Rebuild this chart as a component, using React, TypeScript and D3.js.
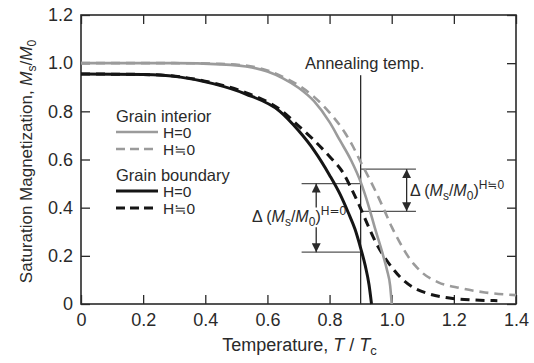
import React, { useRef, useEffect } from 'react';
import * as d3 from 'd3';

// tick values
const xTicks = [0, 0.2, 0.4, 0.6, 0.8, 1.0, 1.2, 1.4];
const yTicks = [0, 0.2, 0.4, 0.6, 0.8, 1.0, 1.2];

// [T/Tc, Ms/M0]
const interiorH0: [number, number][] = [
  [0, 1.0], [0.3, 1.0], [0.45, 0.995], [0.55, 0.982], [0.6, 0.965], [0.65, 0.937],
  [0.7, 0.898], [0.75, 0.842], [0.8, 0.755], [0.834, 0.678], [0.87, 0.595], [0.9, 0.507],
  [0.925, 0.41], [0.946, 0.315], [0.97, 0.212], [0.985, 0.14], [0.995, 0.075], [1.0, 0],
];
const interiorHn: [number, number][] = [
  [0, 1.0], [0.3, 1.0], [0.45, 0.997], [0.55, 0.986], [0.6, 0.97], [0.65, 0.943],
  [0.7, 0.908], [0.75, 0.86], [0.8, 0.795], [0.85, 0.71], [0.875, 0.655], [0.9, 0.59],
  [0.925, 0.528], [0.95, 0.463], [0.975, 0.393], [1.0, 0.32], [1.025, 0.258],
  [1.05, 0.203], [1.075, 0.16], [1.1, 0.128], [1.15, 0.09], [1.22, 0.066],
  [1.3, 0.048], [1.4, 0.037],
];
const boundaryH0: [number, number][] = [
  [0, 0.955], [0.2, 0.953], [0.32, 0.942], [0.425, 0.915], [0.53, 0.872], [0.64, 0.8],
  [0.7, 0.72], [0.75, 0.638], [0.8, 0.535], [0.834, 0.455], [0.86, 0.38], [0.882, 0.31],
  [0.9, 0.232], [0.915, 0.158], [0.927, 0.08], [0.935, 0],
];
const boundaryHn: [number, number][] = [
  [0, 0.955], [0.2, 0.953], [0.32, 0.943], [0.425, 0.918], [0.53, 0.878], [0.64, 0.808],
  [0.7, 0.74], [0.75, 0.68], [0.8, 0.612], [0.843, 0.546], [0.866, 0.49], [0.9, 0.397],
  [0.925, 0.322], [0.95, 0.253], [0.975, 0.198], [1.0, 0.153], [1.03, 0.108],
  [1.07, 0.068], [1.113, 0.045], [1.18, 0.026], [1.26, 0.017], [1.34, 0.014],
];

// annotations (data units)
const annealingTemp = 0.9;
const annealingTop = 0.95;
const deltaH0 = [0.5, 0.215];
const deltaHn = [0.56, 0.385];
const deltaH0Span = [0.71, 0.9];
const deltaHnSpan = [0.9, 1.078];
const deltaH0ArrowT = 0.757;
const deltaHnArrowT = 1.048;

const GRAY = '#9b9b9b';
const BLACK = '#151515';
const INK = '#2a2a2a';
const FONT = 'Liberation Sans, Arial, sans-serif';
const APPROX = '≒';

const App: React.FC = () => {
  const svgRef = useRef<SVGSVGElement | null>(null);
  const width = 534;
  const height = 363;
  const marginTop = 15;
  const marginRight = 18;
  const marginBottom = 59;
  const marginLeft = 81;

  useEffect(() => {
    const svg = d3.select(svgRef.current);
    svg.selectAll('*').remove();

    const x = d3.scaleLinear().domain([0, 1.4]).range([marginLeft, width - marginRight]);
    const y = d3.scaleLinear().domain([0, 1.2]).range([height - marginBottom, marginTop]);

    const defs = svg.append('defs');
    defs.append('marker')
      .attr('id', 'arrow')
      .attr('viewBox', '0 0 10 10')
      .attr('refX', 10).attr('refY', 5)
      .attr('markerUnits', 'userSpaceOnUse')
      .attr('markerWidth', 9).attr('markerHeight', 9)
      .attr('orient', 'auto-start-reverse')
      .append('path')
      .attr('d', 'M0,0 L10,5 L0,10 Z')
      .attr('fill', INK);

    // axes
    const fmt = (d: d3.NumberValue) => (+d === 0 ? '0' : d3.format('.1f')(+d));
    const styleAxis = (g: d3.Selection<SVGGElement, unknown, null, undefined>) => {
      g.select('.domain').remove();
      g.selectAll('line').attr('stroke', INK).attr('stroke-width', 1.3);
      g.selectAll('text').attr('fill', INK).attr('font-size', 18).attr('font-family', FONT);
    };
    svg.append('g')
      .attr('transform', `translate(0,${height - marginBottom})`)
      .call(d3.axisBottom(x).tickValues(xTicks).tickFormat(fmt).tickSizeInner(-9).tickSizeOuter(0).tickPadding(9))
      .call(styleAxis);
    svg.append('g')
      .attr('transform', `translate(0,${marginTop})`)
      .call(d3.axisTop(x).tickValues(xTicks).tickFormat(() => '').tickSizeInner(-9).tickSizeOuter(0))
      .call(styleAxis);
    svg.append('g')
      .attr('transform', `translate(${marginLeft},0)`)
      .call(d3.axisLeft(y).tickValues(yTicks).tickFormat(fmt).tickSizeInner(-9).tickSizeOuter(0).tickPadding(8))
      .call(styleAxis);
    svg.append('g')
      .attr('transform', `translate(${width - marginRight},0)`)
      .call(d3.axisRight(y).tickValues(yTicks).tickFormat(() => '').tickSizeInner(-9).tickSizeOuter(0))
      .call(styleAxis);

    svg.append('rect')
      .attr('x', marginLeft).attr('y', marginTop)
      .attr('width', width - marginLeft - marginRight)
      .attr('height', height - marginTop - marginBottom)
      .attr('fill', 'none').attr('stroke', INK).attr('stroke-width', 1.6);

    // annealing line + brackets
    const plot = svg.append('g');
    plot.append('line')
      .attr('x1', x(annealingTemp)).attr('x2', x(annealingTemp))
      .attr('y1', y(annealingTop)).attr('y2', y(0))
      .attr('stroke', INK).attr('stroke-width', 1.3);
    plot.append('text')
      .attr('x', x(annealingTemp) + 4).attr('y', y(annealingTop) - 6)
      .attr('text-anchor', 'middle').attr('font-size', 16.5).attr('font-family', FONT)
      .attr('fill', INK).text('Annealing temp.');

    deltaH0.forEach(v => {
      plot.append('line')
        .attr('x1', x(deltaH0Span[0])).attr('x2', x(deltaH0Span[1]))
        .attr('y1', y(v)).attr('y2', y(v))
        .attr('stroke', '#555').attr('stroke-width', 1.3);
    });
    deltaHn.forEach(v => {
      plot.append('line')
        .attr('x1', x(deltaHnSpan[0])).attr('x2', x(deltaHnSpan[1]))
        .attr('y1', y(v)).attr('y2', y(v))
        .attr('stroke', '#555').attr('stroke-width', 1.3);
    });

    // curves
    const line = d3.line<[number, number]>()
      .x(d => x(d[0])).y(d => y(d[1]))
      .curve(d3.curveMonotoneX);
    const series = [
      { data: interiorHn, color: GRAY, dash: '9,6', w: 2.6 },
      { data: boundaryHn, color: BLACK, dash: '9,6', w: 3 },
      { data: interiorH0, color: GRAY, dash: null, w: 2.6 },
      { data: boundaryH0, color: BLACK, dash: null, w: 3 },
    ];
    series.forEach(s => {
      plot.append('path')
        .datum(s.data)
        .attr('d', line)
        .attr('fill', 'none')
        .attr('stroke', s.color)
        .attr('stroke-width', s.w)
        .attr('stroke-dasharray', s.dash);
    });

    // arrows
    const ax0 = x(deltaH0ArrowT);
    plot.append('line')
      .attr('x1', ax0).attr('x2', ax0).attr('y1', y(deltaH0[0]) + 24).attr('y2', y(deltaH0[0]))
      .attr('stroke', INK).attr('stroke-width', 1.3).attr('marker-end', 'url(#arrow)');
    plot.append('line')
      .attr('x1', ax0).attr('x2', ax0).attr('y1', y(deltaH0[1]) - 25).attr('y2', y(deltaH0[1]))
      .attr('stroke', INK).attr('stroke-width', 1.3).attr('marker-end', 'url(#arrow)');
    const ax1 = x(deltaHnArrowT);
    plot.append('line')
      .attr('x1', ax1).attr('x2', ax1).attr('y1', y(deltaHn[1])).attr('y2', y(deltaHn[0]))
      .attr('stroke', INK).attr('stroke-width', 1.3)
      .attr('marker-end', 'url(#arrow)').attr('marker-start', 'url(#arrow)');

    const deltaLabel = (tx: number, ty: number, sup: string[]) => {
      const t = plot.append('text')
        .attr('x', tx).attr('y', ty)
        .attr('font-size', 16).attr('font-family', FONT).attr('fill', INK);
      t.append('tspan').text('Δ (');
      t.append('tspan').attr('font-style', 'italic').text('M');
      t.append('tspan').attr('font-size', 12).attr('dy', 4).text('s');
      t.append('tspan').attr('dy', -4).text('/');
      t.append('tspan').attr('font-style', 'italic').text('M');
      t.append('tspan').attr('font-size', 12).attr('dy', 4).text('0');
      t.append('tspan').attr('dy', -4).text(')');
      t.append('tspan').attr('font-size', 12).attr('dy', -7).text(sup[0]);
      t.append('tspan').attr('font-size', 12).attr('font-family', 'DejaVu Sans').text(sup[1]);
      t.append('tspan').attr('font-size', 12).text(sup[2]);
    };
    deltaLabel(252, 222, ['H', '=', '0']);
    deltaLabel(410, 196, ['H', APPROX, '0']);

    // legend
    const legend = svg.append('g').attr('font-family', FONT).attr('fill', INK);
    const lx0 = 116;
    const lx1 = 158;
    const items = [
      { title: 'Grain interior', ty: 122, color: GRAY, w: 2.6, rows: [132, 149] },
      { title: 'Grain boundary', ty: 181, color: BLACK, w: 3, rows: [191, 208] },
    ];
    items.forEach(it => {
      legend.append('text').attr('x', lx0).attr('y', it.ty).attr('font-size', 16.5).text(it.title);
      it.rows.forEach((ry, i) => {
        legend.append('line')
          .attr('x1', lx0).attr('x2', lx1).attr('y1', ry).attr('y2', ry)
          .attr('stroke', it.color).attr('stroke-width', it.w)
          .attr('stroke-dasharray', i === 0 ? null : '9,5');
        const t = legend.append('text').attr('x', lx1 + 5).attr('y', ry + 5.5).attr('font-size', 15.5);
        t.append('tspan').text('H');
        t.append('tspan').attr('font-family', i === 0 ? FONT : 'DejaVu Sans').attr('font-size', 14.5)
          .text(i === 0 ? '=' : APPROX);
        t.append('tspan').text('0');
      });
    });

    // axis titles
    const yTitle = svg.append('text')
      .attr('transform', `translate(26,${(marginTop + height - marginBottom) / 2 + 2}) rotate(-90)`)
      .attr('text-anchor', 'middle').attr('dy', '0.35em')
      .attr('font-size', 17).attr('font-family', FONT).attr('fill', INK);
    yTitle.append('tspan').text('Saturation Magnetization, ');
    yTitle.append('tspan').attr('font-style', 'italic').text('M');
    yTitle.append('tspan').attr('font-size', 12).attr('dy', 4).text('s');
    yTitle.append('tspan').attr('dy', -4).text('/');
    yTitle.append('tspan').attr('font-style', 'italic').text('M');
    yTitle.append('tspan').attr('font-size', 12).attr('dy', 4).text('0');

    const xTitle = svg.append('text')
      .attr('x', (marginLeft + width - marginRight) / 2 + 1).attr('y', 351)
      .attr('text-anchor', 'middle')
      .attr('font-size', 18).attr('font-family', FONT).attr('fill', INK);
    xTitle.append('tspan').text('Temperature, ');
    xTitle.append('tspan').attr('font-style', 'italic').text('T');
    xTitle.append('tspan').text(' / ');
    xTitle.append('tspan').attr('font-style', 'italic').text('T');
    xTitle.append('tspan').attr('font-size', 13).attr('dy', 4).text('c');

    svg.attr('width', width).attr('height', height);
  }, []);

  return (
    <svg
      ref={svgRef}
      width={width}
      height={height}
      style={{ position: 'absolute', left: 0, top: 0, background: '#fff' }}
    />
  );
};

export default App;
